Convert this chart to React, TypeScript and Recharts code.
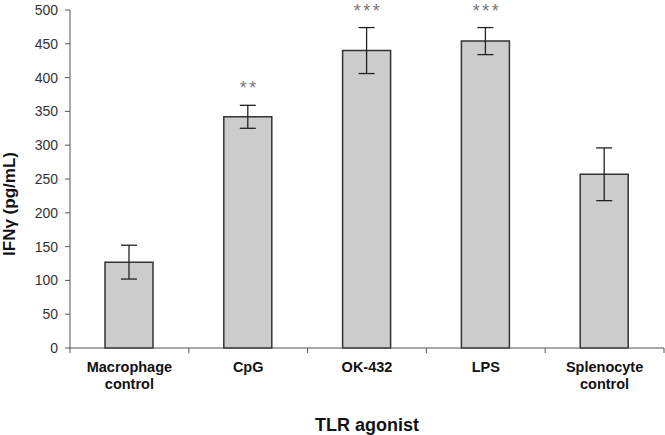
import React from "react";
import { BarChart, Bar, XAxis, YAxis, ErrorBar, LabelList, Label } from "recharts";

const categories = ["Macrophage control", "CpG", "OK-432", "LPS", "Splenocyte control"];
const categoryLines = [["Macrophage", "control"], ["CpG"], ["OK-432"], ["LPS"], ["Splenocyte", "control"]];
const means = [127, 342, 440, 454, 257];
const errors = [25, 17, 34, 20, 39];
const stars = ["", "**", "***", "***", ""];
const yTicks = [0, 50, 100, 150, 200, 250, 300, 350, 400, 450, 500];

const data = categories.map((c, i) => ({ name: c, value: means[i], err: errors[i], idx: i }));

const FONT = "'Liberation Sans', Arial, Helvetica, sans-serif";

const CategoryTick = (props: any) => {
  const { x, y, payload, index } = props;
  const off = payload && payload.offset ? payload.offset : 59.35;
  const i = payload ? payload.index ?? index : index;
  const lines = categoryLines[i] || [String(payload.value)];
  return (
    <g>
      <line x1={x - off} y1={y} x2={x - off} y2={y + 5} stroke="#555" strokeWidth={1} />
      {i === categories.length - 1 && (
        <line x1={x + off} y1={y} x2={x + off} y2={y + 5} stroke="#555" strokeWidth={1} />
      )}
      {lines.map((ln: string, k: number) => (
        <text
          key={k}
          x={x}
          y={y + 24 + k * 16.5}
          textAnchor="middle"
          fontFamily={FONT}
          fontWeight="bold"
          fontSize={14.5}
          fill="#111"
        >
          {ln}
        </text>
      ))}
    </g>
  );
};

const StarLabel = (props: any) => {
  const { x, y, width, height, value, index } = props;
  const s = stars[index];
  if (!s) return null;
  const ppu = height / value;
  const errTop = y - errors[index] * ppu;
  return (
    <text
      x={x + width / 2 + 1.5}
      y={errTop - 11}
      textAnchor="middle"
      fontFamily={FONT}
      fontSize={18}
      letterSpacing={2.5}
      fill="#777"
    >
      {s}
    </text>
  );
};

export default function App() {
  return (
    <div style={{ position: "absolute", left: 0, top: 0, width: 665, height: 435, background: "#fff" }}>
      <BarChart
        width={665}
        height={435}
        data={data}
        margin={{ top: 10, right: 1, left: 0, bottom: 0 }}
        barSize={48}
      >
        <YAxis
          type="number"
          domain={[0, 500]}
          ticks={yTicks}
          interval={0}
          width={70}
          axisLine={{ stroke: "#555", strokeWidth: 1 }}
          tickLine={{ stroke: "#555", strokeWidth: 1 }}
          tickSize={5}
          tickMargin={7}
          tick={{ fill: "#333", fontSize: 14, fontFamily: FONT }}
        >
          <Label
            content={() => (
              <text
                x={15}
                y={204}
                transform="rotate(-90, 15, 204)"
                textAnchor="middle"
                fontFamily={FONT}
                fontWeight="bold"
                fontSize={17}
                fill="#111"
              >
                IFNγ (pg/mL)
              </text>
            )}
          />
        </YAxis>
        <XAxis
          dataKey="name"
          type="category"
          height={87}
          interval={0}
          axisLine={{ stroke: "#555", strokeWidth: 1 }}
          tickLine={false}
          tickSize={0}
          tickMargin={0}
          tick={<CategoryTick />}
        >
          <Label
            content={() => (
              <text
                x={367}
                y={430.5}
                textAnchor="middle"
                fontFamily={FONT}
                fontWeight="bold"
                fontSize={18}
                fill="#111"
              >
                TLR agonist
              </text>
            )}
          />
        </XAxis>
        <Bar dataKey="value" fill="#cccccc" stroke="#333" strokeWidth={1.5} isAnimationActive={false}>
          <ErrorBar dataKey="err" width={8} stroke="#222" strokeWidth={1.3} direction="y" />
          <LabelList dataKey="value" content={<StarLabel />} />
        </Bar>
      </BarChart>
    </div>
  );
}
